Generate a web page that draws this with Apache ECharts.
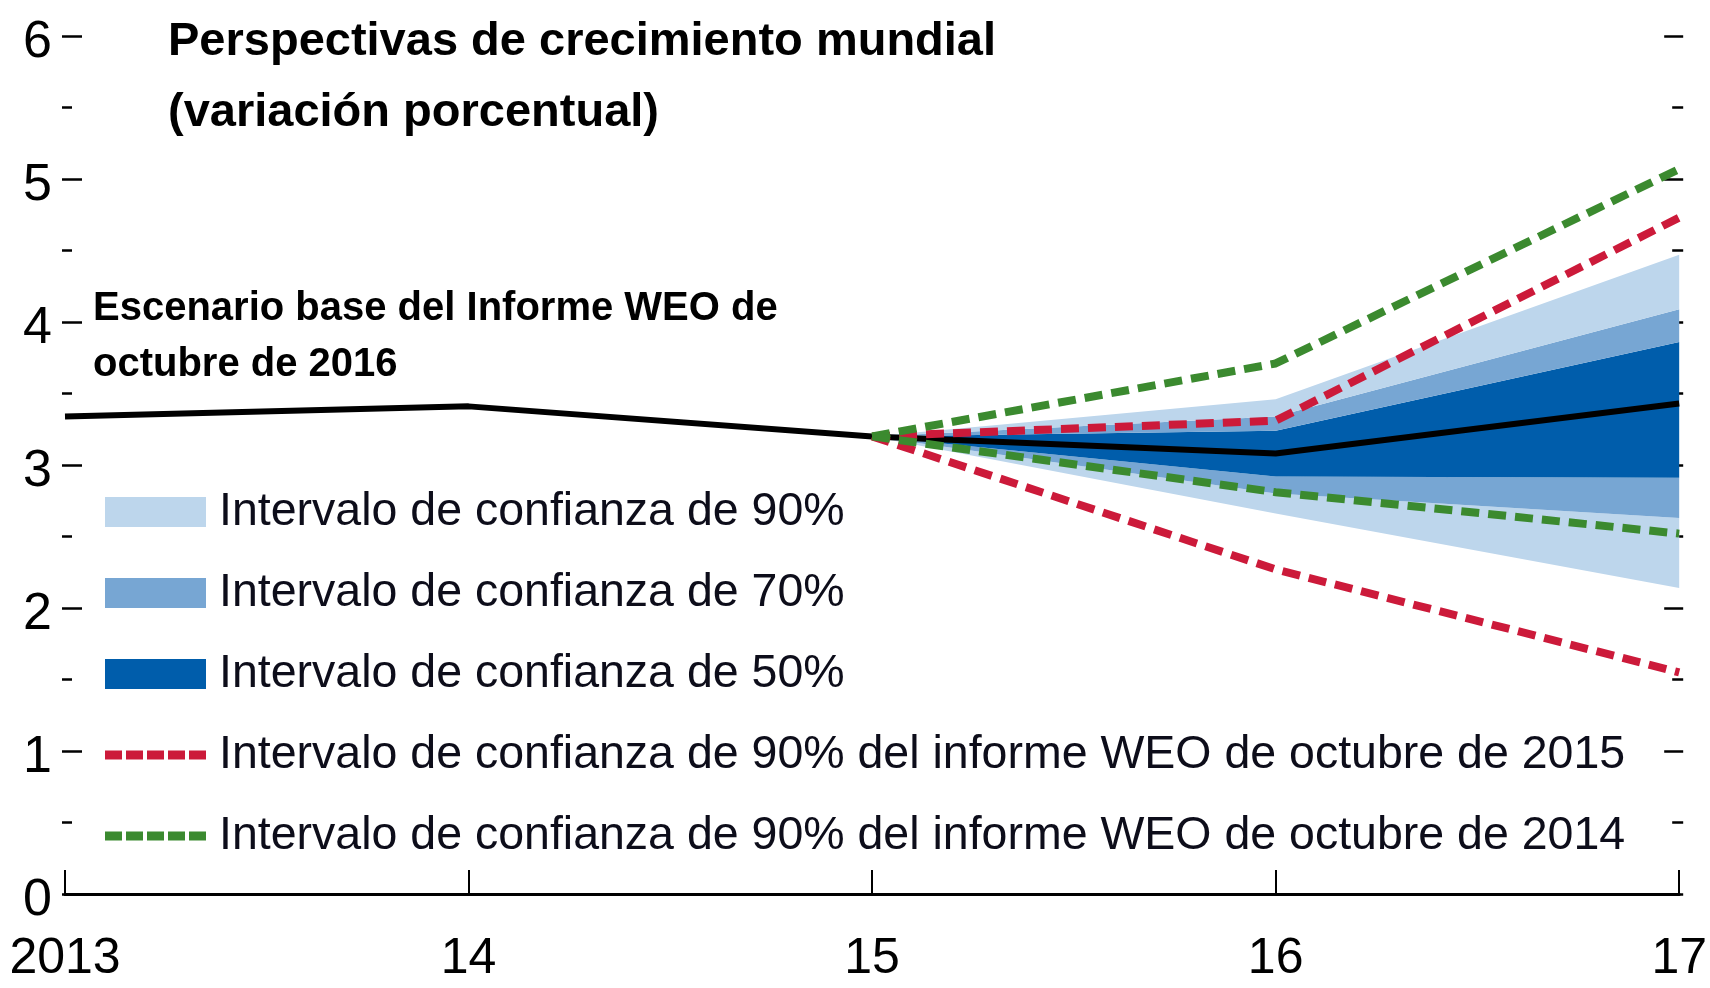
<!DOCTYPE html>
<html>
<head>
<meta charset="utf-8">
<script src="https://cdn.jsdelivr.net/npm/echarts@6/dist/echarts.min.js"></script>
<style>
  html, body { margin: 0; padding: 0; background: #fff; }
  #chart { width: 1710px; height: 988px; }
</style>
</head>
<body>
<div id="chart"></div>
<script>
  // años
  var years = ['2013', '14', '15', '16', '17'];

  // escenario base WEO oct 2016
  var baseline = [3.34, 3.41, 3.2, 3.08, 3.43];

  // bandas de confianza (inferior / superior)
  var lower90 = ['-', '-', 3.2, 2.66, 2.14];
  var upper90 = ['-', '-', 3.2, 3.46, 4.47];
  var lower70 = ['-', '-', 3.2, 2.8, 2.63];
  var upper70 = ['-', '-', 3.2, 3.34, 4.09];
  var lower50 = ['-', '-', 3.2, 2.92, 2.91];
  var upper50 = ['-', '-', 3.2, 3.24, 3.86];

  // 90% WEO oct 2015 y oct 2014
  var weo2015Upper = ['-', '-', 3.2, 3.31, 4.73];
  var weo2015Lower = ['-', '-', 3.2, 2.27, 1.55];
  var weo2014Upper = ['-', '-', 3.2, 3.71, 5.07];
  var weo2014Lower = ['-', '-', 3.2, 2.81, 2.52];

  var LIGHT = '#bdd6ec';
  var MID = '#77a6d3';
  var DARK = '#005dab';
  var RED = '#cc1a3a';
  var GREEN = '#3b8a2f';

  var n90 = 'Intervalo de confianza de 90%';
  var n70 = 'Intervalo de confianza de 70%';
  var n50 = 'Intervalo de confianza de 50%';
  var n15 = 'Intervalo de confianza de 90% del informe WEO de octubre de 2015';
  var n14 = 'Intervalo de confianza de 90% del informe WEO de octubre de 2014';

  var FONT = '"Liberation Sans", Arial, sans-serif';

  function diff(a, b) {
    return a.map(function (v, i) { return v === '-' ? '-' : +(v - b[i]).toFixed(3); });
  }

  function band(name, data, color) {
    return {
      name: name,
      type: 'line',
      stack: 'fan',
      data: data,
      symbol: 'none',
      color: color,
      lineStyle: { width: 0, opacity: 0 },
      areaStyle: { color: color, opacity: 1 },
      z: 1
    };
  }

  function dashed(name, data, color) {
    return {
      name: name,
      type: 'line',
      data: data,
      symbol: 'none',
      color: color,
      lineStyle: { width: 8, color: color, type: [18, 9] },
      z: 4
    };
  }

  var dashIcon = 'path://M0 0H17V9H0Z M21 0H38V9H21Z M42 0H59V9H42Z M63 0H80V9H63Z M84 0H101V9H84Z';
  var legendText = { fontFamily: FONT, fontSize: 46.5, color: '#0d0d1a', lineHeight: 60, padding: [12, 0, 0, 8] };

  var chart = echarts.init(document.getElementById('chart'));
  chart.setOption({
    animation: false,
    title: [
      {
        text: 'Perspectivas de crecimiento mundial\n(variación porcentual)',
        left: 163,
        top: 2,
        textStyle: { fontFamily: FONT, fontSize: 47, fontWeight: 'bold', color: '#000', lineHeight: 71 }
      },
      {
        text: 'Escenario base del Informe WEO de\noctubre de 2016',
        left: 88,
        top: 276,
        textStyle: { fontFamily: FONT, fontSize: 40, fontWeight: 'bold', color: '#000', lineHeight: 56 }
      }
    ],
    grid: { left: 65, right: 28, top: 36, bottom: 94 },
    legend: [
      {
        orient: 'vertical',
        left: 105,
        top: 476,
        padding: 0,
        itemWidth: 101,
        itemHeight: 30,
        itemGap: 9,
        selectedMode: false,
        textStyle: legendText,
        data: [
          { name: n90, icon: 'rect', itemStyle: { color: LIGHT } },
          { name: n70, icon: 'rect', itemStyle: { color: MID } },
          { name: n50, icon: 'rect', itemStyle: { color: DARK } }
        ]
      },
      {
        orient: 'vertical',
        left: 105,
        top: 719,
        padding: 0,
        itemWidth: 101,
        itemHeight: 9,
        itemGap: 9,
        selectedMode: false,
        textStyle: legendText,
        data: [
          { name: n15, icon: dashIcon, itemStyle: { color: RED } },
          { name: n14, icon: dashIcon, itemStyle: { color: GREEN } }
        ]
      }
    ],
    xAxis: {
      type: 'category',
      data: years,
      boundaryGap: false,
      axisLine: { lineStyle: { color: '#000', width: 3 } },
      axisTick: { inside: true, length: 24, alignWithLabel: true, lineStyle: { color: '#000', width: 2 } },
      axisLabel: { fontFamily: FONT, fontSize: 50, color: '#000', margin: 40 },
      splitLine: { show: false }
    },
    yAxis: [
      {
        type: 'value',
        min: 0,
        max: 6,
        interval: 1,
        offset: 3,
        axisLine: { show: false },
        axisTick: { show: true, inside: true, length: 20, lineStyle: { color: '#000', width: 2.5 } },
        minorTick: { show: true, splitNumber: 2, length: 10, lineStyle: { color: '#000', width: 2.5 } },
        axisLabel: { fontFamily: FONT, fontSize: 52, color: '#000', margin: 10, verticalAlign: 'top', lineHeight: 14 },
        splitLine: { show: false }
      },
      {
        type: 'value',
        min: 0,
        max: 6,
        interval: 1,
        position: 'right',
        offset: 4,
        axisLine: { show: false },
        axisTick: { show: true, inside: true, length: 19, lineStyle: { color: '#000', width: 2.5 } },
        minorTick: { show: true, splitNumber: 2, length: 11, lineStyle: { color: '#000', width: 2.5 } },
        axisLabel: { show: false },
        splitLine: { show: false }
      }
    ],
    series: [
      {
        name: 'base',
        type: 'line',
        stack: 'fan',
        data: lower90,
        symbol: 'none',
        lineStyle: { width: 0, opacity: 0 },
        z: 1
      },
      band(n90, diff(lower70, lower90), LIGHT),
      band(n70, diff(lower50, lower70), MID),
      band(n50, diff(upper50, lower50), DARK),
      band(n70, diff(upper70, upper50), MID),
      band(n90, diff(upper90, upper70), LIGHT),
      {
        name: 'Escenario base',
        type: 'line',
        data: baseline,
        symbol: 'none',
        lineStyle: { width: 6, color: '#000' },
        z: 3
      },
      dashed(n15, weo2015Upper, RED),
      dashed(n15, weo2015Lower, RED),
      dashed(n14, weo2014Upper, GREEN),
      dashed(n14, weo2014Lower, GREEN)
    ]
  });
</script>
</body>
</html>
